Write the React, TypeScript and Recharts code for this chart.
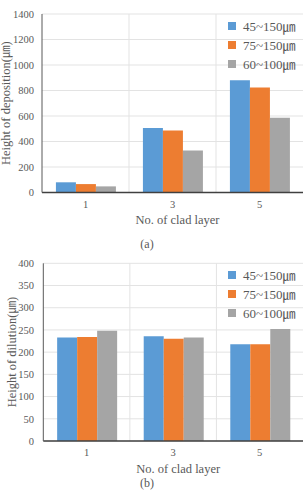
import React from 'react';
import { BarChart, Bar, XAxis, YAxis, CartesianGrid, Legend, Label } from 'recharts';

// Clad layer counts on the category axis
const layers = ['1', '3', '5'];

// Powder size ranges (series names)
const sizeRanges = ['45~150㎛', '75~150㎛', '60~100㎛'];

// (a) Height of deposition, ㎛
const depositionFine = [80, 505, 881];
const depositionMid = [66, 487, 824];
const depositionNarrow = [48, 330, 586];
const depositionTicks = [0, 200, 400, 600, 800, 1000, 1200, 1400];

// (b) Height of dilution, ㎛
const dilutionFine = [233, 236, 218];
const dilutionMid = [234, 230, 218];
const dilutionNarrow = [248, 233, 252];
const dilutionTicks = [0, 50, 100, 150, 200, 250, 300, 350, 400];

const seriesColors = ['#5B9BD5', '#ED7D31', '#A5A5A5'];
const SERIF = 'Liberation Serif, Noto Sans CJK KR, serif';
const TEXT = '#595959';

const buildRows = (a: number[], b: number[], c: number[]) =>
  layers.map((layer, i) => ({ layer, s0: a[i], s1: b[i], s2: c[i] }));

// Vertical key list drawn inside the plot's top-right corner
const LegendBox = ({ payload }: any) => (
  <div style={{ fontFamily: SERIF, fontSize: 13, color: TEXT, textAlign: 'left' }}>
    {(payload || []).map((item: any) => (
      <div key={item.value} style={{ display: 'flex', alignItems: 'center', height: 19, whiteSpace: 'nowrap' }}>
        <span style={{ display: 'inline-block', width: 8, height: 8, background: item.color, marginRight: 7 }} />
        <span>{item.value}</span>
      </div>
    ))}
  </div>
);

type PanelProps = {
  rows: any[];
  ticks: number[];
  yTitle: string;
  plotTop: number;
  plotBottom: number;
  plotLeft: number;
  yTitleDx: number;
};

const Panel = ({ rows, ticks, yTitle, plotTop, plotBottom, plotLeft, yTitleDx }: PanelProps) => {
  const W = 307;
  const H = 245;
  const xAxisH = 40;
  const tickStyle = { fill: TEXT, fontSize: 10.5, fontFamily: SERIF };
  return (
    <BarChart
      width={W}
      height={H}
      data={rows}
      margin={{ top: plotTop, right: 4, bottom: H - plotBottom - xAxisH, left: 0 }}
      barCategoryGap="16%"
      barGap={0}
    >
      <CartesianGrid
        stroke="#e3e3e3"
        verticalCoordinatesGenerator={({ offset }: any) => [
          offset.left + offset.width / 3,
          offset.left + (2 * offset.width) / 3,
        ]}
      />
      <XAxis
        dataKey="layer"
        height={xAxisH}
        tickLine={false}
        tickSize={0}
        tickMargin={8}
        tick={tickStyle}
        axisLine={{ stroke: '#404040', strokeWidth: 1.5 }}
      >
        <Label
          value="No. of clad layer"
          position="insideTop"
          offset={23}
          dx={5}
          style={{ fill: TEXT, fontSize: 12.5, fontFamily: SERIF }}
        />
      </XAxis>
      <XAxis xAxisId="top" orientation="top" height={0} tick={false} tickLine={false} axisLine={{ stroke: '#595959' }} />
      <YAxis
        width={plotLeft}
        domain={[ticks[0], ticks[ticks.length - 1]]}
        ticks={ticks}
        interval={0}
        tickLine={false}
        tickSize={0}
        tickMargin={plotLeft - 34}
        tick={tickStyle}
        axisLine={{ stroke: '#595959' }}
      >
        <Label
          value={yTitle}
          angle={-90}
          position="center"
          dx={yTitleDx}
          style={{ fill: TEXT, fontSize: 12.5, fontFamily: SERIF, textAnchor: 'middle' }}
        />
      </YAxis>
      <YAxis yAxisId="right" orientation="right" width={0} tick={false} tickLine={false} axisLine={{ stroke: '#595959' }} />
      <Legend
        layout="vertical"
        verticalAlign="middle"
        align="center"
        itemSorter={null as any}
        content={<LegendBox />}
        wrapperStyle={{ top: plotTop + 2, left: 228, width: 'auto', right: 'auto', bottom: 'auto' }}
      />
      {sizeRanges.map((name, i) => (
        <Bar key={name} dataKey={`s${i}`} name={name} fill={seriesColors[i]} isAnimationActive={false} />
      ))}
    </BarChart>
  );
};

export default function App() {
  const caption: React.CSSProperties = {
    position: 'absolute',
    left: 0,
    width: 294,
    textAlign: 'center',
    fontFamily: SERIF,
    fontSize: 12,
    color: TEXT,
    lineHeight: '12px',
  };
  return (
    <div style={{ position: 'absolute', left: 0, top: 0, width: 307, height: 490, overflow: 'hidden', background: '#fff' }}>
      <div style={{ position: 'absolute', left: 0, top: 0 }}>
        <Panel
          rows={buildRows(depositionFine, depositionMid, depositionNarrow)}
          ticks={depositionTicks}
          yTitle="Height of deposition(㎛)"
          plotTop={14}
          plotBottom={192.5}
          plotLeft={42}
          yTitleDx={-15}
        />
      </div>
      <div style={{ position: 'absolute', left: 0, top: 245 }}>
        <Panel
          rows={buildRows(dilutionFine, dilutionMid, dilutionNarrow)}
          ticks={dilutionTicks}
          yTitle="Height of dilution(㎛)"
          plotTop={18.3}
          plotBottom={196}
          plotLeft={43.3}
          yTitleDx={-10}
        />
      </div>
      <div style={{ ...caption, top: 238 }}>(a)</div>
      <div style={{ ...caption, top: 477 }}>(b)</div>
    </div>
  );
}
